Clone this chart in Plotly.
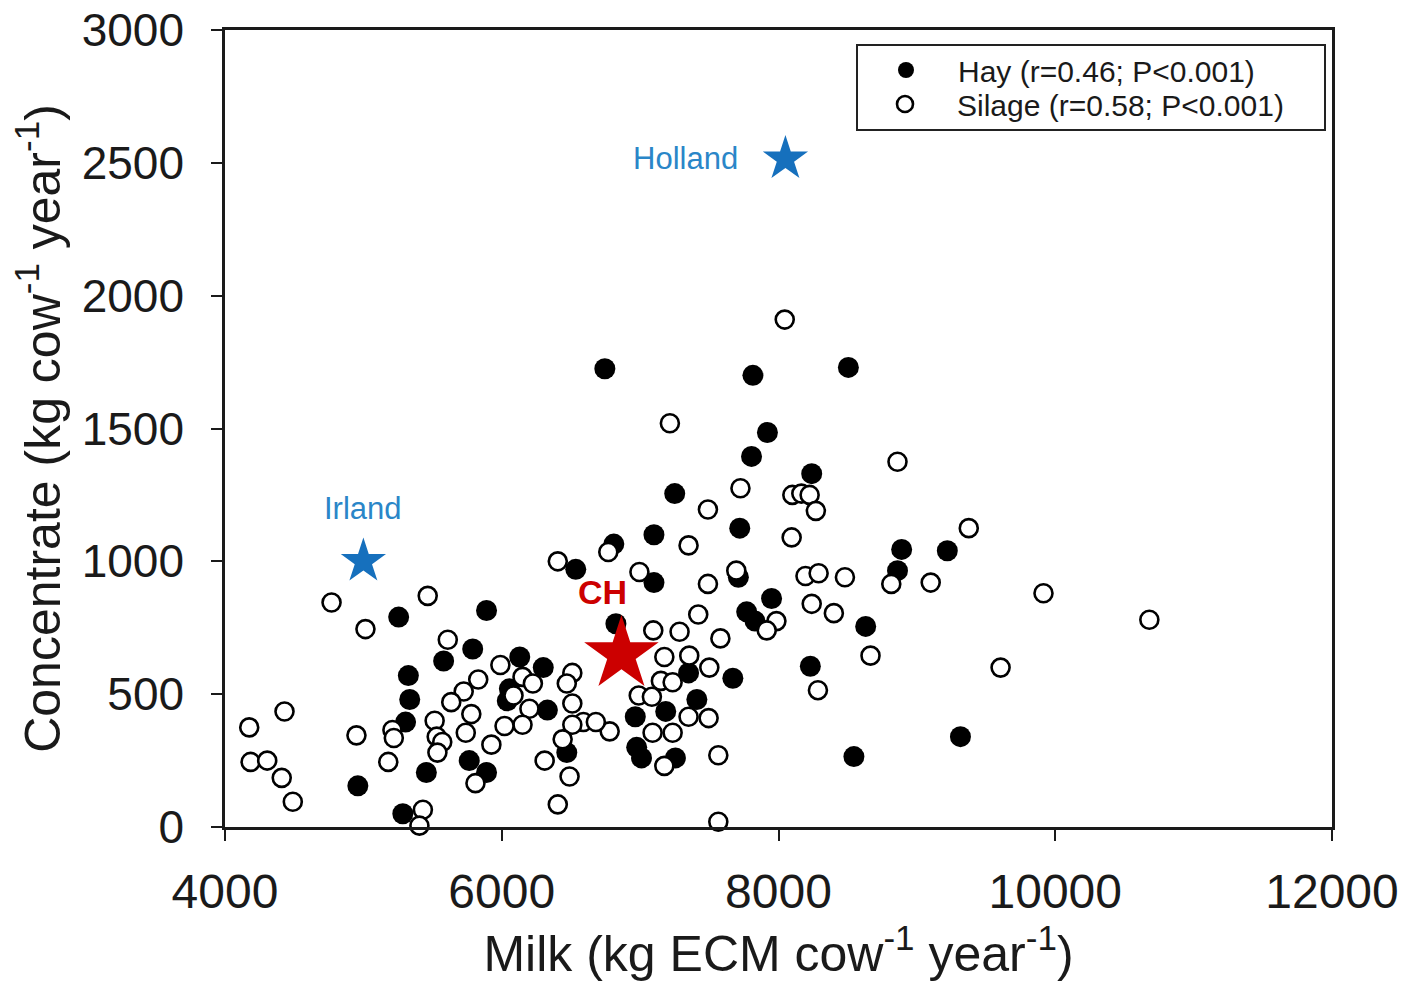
import plotly.graph_objects as go

# Farms fed mainly with hay: milk yield vs concentrate use (kg per cow per year)
hay_milk = [6745, 7815, 8505, 7920, 7805, 8240, 7250, 7720, 7100, 6810,
            6535, 7100, 7710, 8890, 9220, 8860, 7950, 7770, 7830, 8630,
            8230, 9315, 8545, 6825, 5255, 5890, 5790, 5580, 6130, 5325,
            5335, 5305, 6055, 6040, 5455, 5765, 5890, 4960, 5285, 6300,
            6330, 6470, 7350, 7670, 7410, 7185, 6965, 6975, 7010, 7255]
hay_conc = [1725, 1700, 1730, 1485, 1395, 1330, 1255, 1125, 1100, 1065,
            970, 920, 940, 1045, 1040, 965, 860, 810, 775, 755,
            605, 340, 265, 765, 790, 815, 670, 625, 640, 570,
            480, 395, 520, 475, 205, 250, 205, 155, 50, 600,
            440, 280, 580, 560, 480, 435, 415, 300, 260, 260]

# Farms fed mainly with silage
silage_milk = [8045, 7215, 8860, 7725, 8100, 8165, 8225, 8270, 7490, 8095,
               7350, 9375, 6405, 6770, 6995, 7695, 7490, 8195, 8290, 8480,
               8240, 8400, 8815, 9100, 9915, 10680, 8665, 8285, 9605, 7985,
               7915, 7420, 7285, 7580, 7095, 7175, 7355, 7500, 7150, 7235,
               6990, 7085, 7350, 7495, 6780, 7090, 7235, 7175, 7565, 7565,
               4770, 5465, 5015, 5610, 5990, 6150, 6225, 6085, 5830, 5725,
               5635, 5780, 6200, 6150, 6020, 5925, 5740, 5210, 5220, 5515,
               5530, 5570, 5535, 5180, 5810, 5430, 5405, 4430, 4175, 4950,
               4185, 4305, 4410, 4490, 6510, 6470, 6510, 6590, 6680, 6510,
               6440, 6310, 6490, 6405]
silage_conc = [1910, 1520, 1375, 1275, 1250, 1255, 1250, 1190, 1195, 1090,
               1060, 1125, 1000, 1035, 960, 965, 915, 945, 955, 940,
               840, 805, 915, 920, 880, 780, 645, 515, 600, 775,
               740, 800, 735, 710, 740, 640, 645, 600, 550, 545,
               495, 490, 415, 410, 360, 355, 355, 230, 270, 20,
               845, 870, 745, 705, 610, 565, 540, 495, 555, 510,
               470, 425, 445, 385, 380, 310, 355, 365, 335, 400,
               340, 320, 280, 245, 165, 65, 5, 435, 375, 345,
               245, 250, 185, 95, 580, 540, 465, 395, 395, 385,
               330, 250, 190, 85]

# National averages shown as stars
ref_names = ["Irland", "Holland", "CH"]
ref_milk = [5000, 8050, 6865]
ref_conc = [1000, 2515, 650]
ref_colors = ["#1670bd", "#1670bd", "#cc0000"]
ref_sizes = [34, 34, 56]
# label offsets in pixels relative to each star
ref_label_shift = [(0, 53, "center"), (-45, 0, "right"), (-19, 62, "center")]

x_ticks = [4000, 6000, 8000, 10000, 12000]
y_ticks = [0, 500, 1000, 1500, 2000, 2500, 3000]

FONT = "Liberation Sans, Arial, sans-serif"
INK = "#1a1a1a"

# plot area in pixels
L, R, T, B = 225, 1332, 30, 827
W, H = 1405, 983


def px_x(p):
    return (p - L) / (R - L)


def px_y(p):
    return (B - p) / (B - T)


fig = go.Figure()

fig.add_trace(go.Scatter(
    x=hay_milk, y=hay_conc, mode="markers",
    name="Hay (r=0.46; P<0.001)", legend="legend",
    marker=dict(symbol="circle", size=21, color="black",
                line=dict(color="black", width=0)),
    cliponaxis=False,
))

fig.add_trace(go.Scatter(
    x=silage_milk, y=silage_conc, mode="markers",
    name="Silage (r=0.58; P<0.001)", legend="legend2",
    marker=dict(symbol="circle", size=18, color="white",
                line=dict(color="black", width=2.6)),
    cliponaxis=False,
))

fig.add_trace(go.Scatter(
    x=ref_milk, y=ref_conc, mode="markers",
    showlegend=False,
    marker=dict(symbol="star", size=ref_sizes, color=ref_colors,
                opacity=1, line=dict(width=0)),
    cliponaxis=False,
))

for name, mx, cy, col, (dx, dy, anchor) in zip(ref_names, ref_milk, ref_conc,
                                               ref_colors, ref_label_shift):
    bold = name == "CH"
    fig.add_annotation(
        x=mx, y=cy, xref="x", yref="y",
        text=f"<b>{name}</b>" if bold else name,
        showarrow=False, xanchor=anchor, yanchor="middle",
        xshift=dx, yshift=dy,
        font=dict(family=FONT, size=34 if bold else 31,
                  color="#cc0000" if bold else "#2a86c8"),
    )

# Frame around the legend entries
fig.add_shape(type="rect", xref="paper", yref="paper",
              x0=px_x(857), x1=px_x(1325), y0=px_y(130), y1=px_y(45),
              line=dict(color="#222222", width=2), fillcolor="rgba(0,0,0,0)")

legend_common = dict(
    xanchor="left", yanchor="middle",
    bgcolor="rgba(0,0,0,0)", borderwidth=0,
    font=dict(family=FONT, size=30, color=INK),
    itemwidth=94,
)

fig.update_layout(
    width=W, height=H,
    margin=dict(l=L, r=W - R, t=T, b=H - B, pad=0, autoexpand=False),
    paper_bgcolor="white", plot_bgcolor="white",
    font=dict(family=FONT, color=INK),
    showlegend=True,
    legend=dict(x=px_x(854), y=px_y(70), **legend_common),
    legend2=dict(x=px_x(853), y=px_y(104), **legend_common),
)

fig.update_xaxes(
    range=[4000, 12000], tickvals=x_ticks, ticktext=[str(v) for v in x_ticks],
    ticks="outside", ticklen=11, tickwidth=2, tickcolor=INK,
    showline=True, linecolor=INK, linewidth=2.5, mirror=True,
    showgrid=False, zeroline=False, automargin=False,
    tickfont=dict(family=FONT, size=48, color=INK),
    ticklabelstandoff=10,
    title=dict(text="Milk (kg ECM cow<sup>-1</sup> year<sup>-1</sup>)",
               font=dict(family=FONT, size=50, color=INK), standoff=4),
)

fig.update_yaxes(
    range=[0, 3000], tickvals=y_ticks, ticktext=[str(v) for v in y_ticks],
    ticks="outside", ticklen=11, tickwidth=2, tickcolor=INK,
    showline=True, linecolor=INK, linewidth=2.5, mirror=True,
    showgrid=False, zeroline=False, automargin=False,
    tickfont=dict(family=FONT, size=46, color=INK),
    ticklabelstandoff=18,
    title=dict(text="Concentrate (kg cow<sup>-1</sup> year<sup>-1</sup>)",
               font=dict(family=FONT, size=50, color=INK), standoff=6),
)

fig.write_html("out.html")
